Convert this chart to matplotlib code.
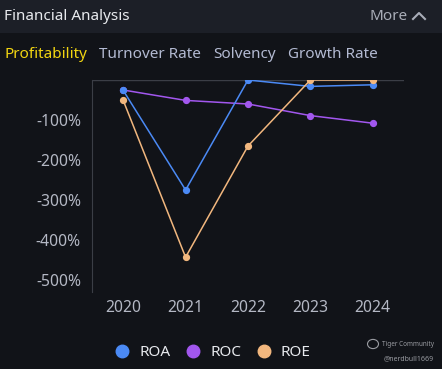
import numpy as np
import matplotlib.pyplot as plt
from matplotlib.lines import Line2D
from matplotlib.patches import Rectangle

plt.rcParams['font.family'] = ['Noto Sans', 'DejaVu Sans']

# data (percent)
years = ["2020", "2021", "2022", "2023", "2024"]
roa = [-26, -275, 0, -16, -12]
roc = [-25, -51, -60, -89, -108]
roe = [-51, -443, -165, 0, 0]
yticks = [-100, -200, -300, -400, -500]
tabs = ["Profitability", "Turnover Rate", "Solvency", "Growth Rate"]
tab_x = [4, 99, 213, 288]

bg = "#111318"
head = "#1c1f27"
c_roa = "#4b8af5"
c_roc = "#a257ee"
c_roe = "#f2b77e"
txt = "#b4b8c4"

W, H = 442, 369
fig = plt.figure(figsize=(W/100, H/100), dpi=100, facecolor=bg)

# header band
fig.patches.append(Rectangle((0, 1 - 33/H), 1, 33/H, transform=fig.transFigure,
                             facecolor=head, edgecolor="none", zorder=0))
fig.text(4/W, 1 - 16/H, "Financial Analysis", color="#e8eaee", fontsize=11,
         va="center", ha="left")
fig.text(408/W, 1 - 16/H, "More", color="#a9adb8", fontsize=11, va="center", ha="right")
fig.lines.append(Line2D([413/W, 419/W, 425/W], [1 - 19/H, 1 - 13/H, 1 - 19/H],
                        transform=fig.transFigure, color="#a9adb8", lw=1.5))

for i, (t, x) in enumerate(zip(tabs, tab_x)):
    fig.text(x/W, 1 - 55/H, t, color="#f2d511" if i == 0 else "#b3bad2",
             fontsize=11, va="center", ha="left")

ax = fig.add_axes([92/W, 1 - 292/H, 312/W, 212/H])
ax.set_facecolor(bg)
x = np.arange(len(years))
for vals, c, name in [(roc, c_roc, "ROC"), (roa, c_roa, "ROA"), (roe, c_roe, "ROE")]:
    ax.plot(x, vals, color=c, lw=1.1, marker="o", ms=4.2, label=name, zorder=3)

ax.axhline(0, color="#3b3e46", lw=1, zorder=1)
ax.set_xlim(-0.5, 4.5)
ax.set_ylim(-530, 0)
ax.set_yticks(yticks)
ax.set_yticklabels([f"{v}%" for v in yticks])
ax.set_xticks(x)
ax.set_xticklabels(years)
ax.tick_params(colors=txt, labelsize=11.3, length=0)
ax.tick_params(axis="x", pad=6)
ax.tick_params(axis="y", pad=8)
for s in ["top", "right", "bottom"]:
    ax.spines[s].set_visible(False)
ax.spines["left"].set_color("#3b3e46")

handles = [Line2D([], [], ls="none", marker="o", ms=9, color=c, label=n)
           for c, n in [(c_roa, "ROA"), (c_roc, "ROC"), (c_roe, "ROE")]]
fig.legend(handles=handles, loc="center", bbox_to_anchor=(212/W, 1 - 353/H), ncol=3,
           frameon=False, fontsize=11, labelcolor="#e8eaee", handletextpad=0.5,
           columnspacing=0.9, handlelength=1.2)

# watermark
fig.text(434/W, 1 - 345/H, "Tiger Community", color="#9a9ca2", fontsize=4.6,
         ha="right", va="center")
fig.text(434/W, 1 - 359/H, "@nerdbull1669", color="#9a9ca2", fontsize=5,
         ha="right", va="center")
fig.patches.append(plt.Circle((373/W, 1 - 344/H), 5.5/W, transform=fig.transFigure,
                              fill=False, edgecolor="#9a9ca2", lw=0.8))

fig.savefig("out.png", dpi=100, facecolor=bg)
